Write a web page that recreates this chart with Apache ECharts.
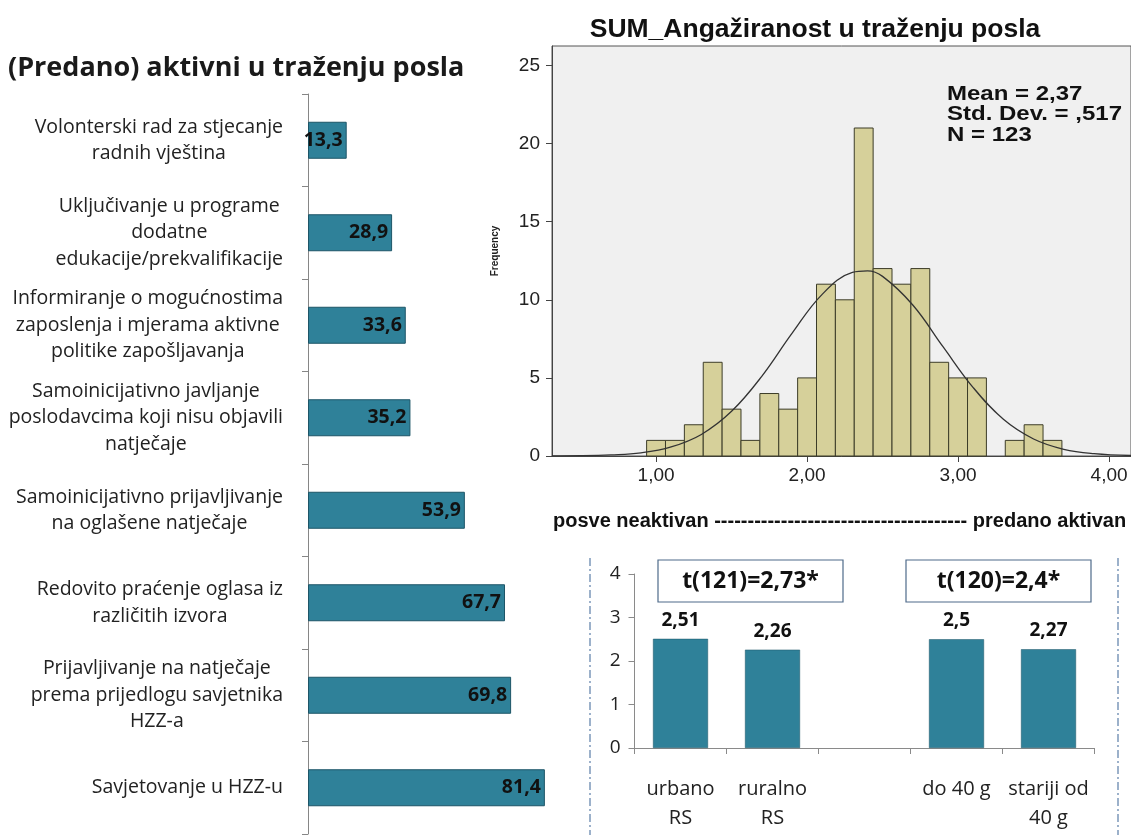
<!DOCTYPE html>
<html>
<head>
<meta charset="utf-8">
<script src="https://cdn.jsdelivr.net/npm/echarts@6/dist/echarts.min.js"></script>
<style>
  html, body { margin: 0; padding: 0; background: #fff; }
  #chart { width: 1131px; height: 835px; }
</style>
</head>
<body>
<div id="chart"></div>
<script>
// left: share of respondents per activity (%)
const activityLabels = [
  "Volonterski rad za stjecanje\nradnih vještina",
  "Uključivanje u programe\ndodatne\nedukacije/prekvalifikacije",
  "Informiranje o mogućnostima\nzaposlenja i mjerama aktivne\npolitike zapošljavanja",
  "Samoinicijativno javljanje\nposlodavcima koji nisu objavili\nnatječaje",
  "Samoinicijativno prijavljivanje\nna oglašene natječaje",
  "Redovito praćenje oglasa iz\nrazličitih izvora",
  "Prijavljivanje na natječaje\nprema prijedlogu savjetnika\nHZZ-a",
  "Savjetovanje u HZZ-u"
];
const activityValues = [13.3, 28.9, 33.6, 35.2, 53.9, 67.7, 69.8, 81.4];

// histogram of SUM_Angažiranost
const BIN_WIDTH = 0.125;
const binCenters = [1.0, 1.125, 1.25, 1.375, 1.5, 1.625, 1.75, 1.875, 2.0, 2.125, 2.25,
  2.375, 2.5, 2.625, 2.75, 2.875, 3.0, 3.125, 3.25, 3.375, 3.5, 3.625];
const binCounts = [1, 1, 2, 6, 3, 1, 4, 3, 5, 11, 10, 21, 12, 11, 12, 6, 5, 5, 0, 1, 2, 1];
// normal curve
const curveX = [0.31, 0.5, 0.7, 0.9, 1.1, 1.3, 1.5, 1.7, 1.9, 2.1, 2.3, 2.4, 2.5, 2.7, 2.9, 3.1, 3.3, 3.5, 3.7, 3.9, 4.15];
const curveY = [0.01, 0.02, 0.07, 0.2, 0.58, 1.38, 2.86, 5.1, 7.85, 10.35, 11.75, 11.85, 11.5, 9.67, 7.0, 4.38, 2.35, 1.09, 0.43, 0.15, 0.03];
const histXTicks = [1, 2, 3, 4];
const histYTicks = [0, 5, 10, 15, 20, 25];

// bottom right: group means
const groupLabels = ["urbano\nRS", "ruralno\nRS", "", "do 40 g", "stariji od\n40 g"];
const groupValues = [2.51, 2.26, null, 2.5, 2.27];

const chart = echarts.init(document.getElementById("chart"));

const SPSS_FONT = '"Liberation Sans", Arial, sans-serif';
const OFFICE_FONT = '"Open Sans", Lato, sans-serif';
const TEAL = "#2f8199";
const TEAL_EDGE = "#1d5567";

const option = {
  animation: false,
  backgroundColor: "#fff",
  grid: [
    { left: 308, top: 94, width: 291, height: 740, outerBoundsMode: "none" },
    {
      left: 552, top: 46, width: 579, height: 410, outerBoundsMode: "none",
      show: true, backgroundColor: "#f0f0f0", borderColor: "#555", borderWidth: 1
    },
    { left: 634.5, top: 574, width: 460, height: 174, outerBoundsMode: "none" }
  ],
  xAxis: [
    { gridIndex: 0, type: "value", min: 0, max: 100, show: false },
    {
      gridIndex: 1, type: "value", min: 0.311, max: 4.145,
      axisLine: { show: true, lineStyle: { color: "#444" } },
      axisTick: { show: true, customValues: histXTicks, length: 6, lineStyle: { color: "#444" } },
      axisLabel: {
        customValues: histXTicks, margin: 10,
        formatter: (v) => v.toFixed(2).replace(".", ","),
        fontFamily: SPSS_FONT, fontSize: 19, color: "#222"
      },
      splitLine: { show: false }
    },
    {
      gridIndex: 2, type: "category", data: groupLabels,
      axisLine: { lineStyle: { color: "#8a8a8a" } },
      axisTick: { show: true, interval: 0, length: 6, lineStyle: { color: "#8a8a8a" } },
      axisLabel: {
        interval: 0, margin: 27, lineHeight: 29,
        fontFamily: OFFICE_FONT, fontSize: 20, color: "#222"
      }
    }
  ],
  yAxis: [
    {
      gridIndex: 0, type: "category", data: activityLabels, inverse: true,
      axisLine: { show: true, lineStyle: { color: "#868686" } },
      axisTick: { show: true, interval: 0, length: 6, lineStyle: { color: "#868686" } },
      axisLabel: {
        interval: 0, margin: 25, align: "right",
        formatter: (v) => v.split("\n").map((l) => "{c|" + l + "}").join("\n"),
        rich: {
          c: { align: "center", fontFamily: OFFICE_FONT, fontSize: 19.5, lineHeight: 26.5, color: "#222" }
        }
      }
    },
    {
      gridIndex: 1, type: "value", min: 0, max: 26.25,
      name: "Frequency", nameLocation: "middle", nameGap: 52, nameRotate: 90,
      nameTextStyle: { fontFamily: SPSS_FONT, fontSize: 10, fontWeight: "bold", color: "#222" },
      axisLine: { show: true, lineStyle: { color: "#444" } },
      axisTick: { show: true, customValues: histYTicks, length: 6, lineStyle: { color: "#444" } },
      axisLabel: {
        customValues: histYTicks, margin: 12,
        fontFamily: SPSS_FONT, fontSize: 19, color: "#222"
      },
      splitLine: { show: false }
    },
    {
      gridIndex: 2, type: "value", min: 0, max: 4, interval: 1,
      axisLine: { show: true, lineStyle: { color: "#8a8a8a" } },
      axisTick: { show: true, length: 6, lineStyle: { color: "#8a8a8a" } },
      axisLabel: { margin: 14, fontFamily: OFFICE_FONT, fontSize: 19, color: "#222" },
      splitLine: { show: false }
    }
  ],
  series: [
    {
      type: "bar", xAxisIndex: 0, yAxisIndex: 0,
      data: activityValues, barWidth: 37,
      itemStyle: { color: TEAL, borderColor: TEAL_EDGE, borderWidth: 1 },
      label: {
        show: true, position: "insideRight", distance: 4,
        formatter: (p) => p.value.toFixed(1).replace(".", ","),
        fontFamily: OFFICE_FONT, fontSize: 19.5, fontWeight: "bold", color: "#111"
      }
    },
    {
      type: "custom", xAxisIndex: 1, yAxisIndex: 1,
      data: binCenters.map((c, i) => [c, binCounts[i]]),
      encode: { x: 0, y: 1 },
      renderItem: (params, api) => {
        const x = api.value(0);
        const y = api.value(1);
        if (!y) return null;
        const p0 = api.coord([x - BIN_WIDTH / 2, y]);
        const p1 = api.coord([x + BIN_WIDTH / 2, 0]);
        return {
          type: "rect",
          shape: { x: p0[0], y: p0[1], width: p1[0] - p0[0], height: p1[1] - p0[1] },
          style: { fill: "#d6d09a", stroke: "#3c3c28", lineWidth: 1 }
        };
      }
    },
    {
      type: "line", xAxisIndex: 1, yAxisIndex: 1,
      data: curveX.map((x, i) => [x, curveY[i]]),
      smooth: 0.4, showSymbol: false, z: 5,
      lineStyle: { color: "#333", width: 1.3 }
    },
    {
      type: "bar", xAxisIndex: 2, yAxisIndex: 2,
      data: groupValues, barWidth: 55,
      itemStyle: { color: TEAL, borderColor: TEAL_EDGE, borderWidth: 0.5 },
      label: {
        show: true, position: "top", distance: 9,
        formatter: (p) => String(p.value).replace(".", ","),
        fontFamily: OFFICE_FONT, fontSize: 19, fontWeight: "bold", color: "#111"
      }
    }
  ],
  graphic: [
    {
      type: "text", left: 8, top: 55,
      style: { text: "(Predano) aktivni u traženju posla", font: "bold 27px " + OFFICE_FONT, fill: "#1a1a1a" }
    },
    {
      type: "text", x: 815, y: 30,
      style: {
        text: "SUM_Angažiranost u traženju posla", font: "bold 26.5px " + SPSS_FONT, fill: "#111",
        align: "center", verticalAlign: "middle", textAlign: "center", textVerticalAlign: "middle"
      }
    },
    {
      type: "text", x: 947, y: 84, scaleX: 1.2,
      style: {
        text: "Mean = 2,37\nStd. Dev. = ,517\nN = 123", font: "bold 20px " + SPSS_FONT,
        lineHeight: 20.5, fill: "#111"
      }
    },
    {
      type: "text", x: 553, y: 511,
      style: {
        text: "posve neaktivan -------------------------------------- predano aktivan",
        font: "bold 20px " + SPSS_FONT, fill: "#111"
      }
    },
    {
      type: "rect", shape: { x: 658, y: 560, width: 185, height: 42 },
      style: { fill: "#fff", stroke: "#4f6b8a", lineWidth: 1.2 }
    },
    {
      type: "text", x: 750.5, y: 581,
      style: {
        text: "t(121)=2,73*", font: "bold 23px " + OFFICE_FONT, fill: "#111",
        align: "center", verticalAlign: "middle", textAlign: "center", textVerticalAlign: "middle"
      }
    },
    {
      type: "rect", shape: { x: 906, y: 560, width: 185, height: 42 },
      style: { fill: "#fff", stroke: "#4f6b8a", lineWidth: 1.2 }
    },
    {
      type: "text", x: 998.5, y: 581,
      style: {
        text: "t(120)=2,4*", font: "bold 23px " + OFFICE_FONT, fill: "#111",
        align: "center", verticalAlign: "middle", textAlign: "center", textVerticalAlign: "middle"
      }
    },
    {
      type: "line", shape: { x1: 590, y1: 558, x2: 590, y2: 835 },
      style: { stroke: "#5b7ea8", lineWidth: 1.2, lineDash: [8, 3, 2, 3] }
    },
    {
      type: "line", shape: { x1: 1118, y1: 558, x2: 1118, y2: 835 },
      style: { stroke: "#5b7ea8", lineWidth: 1.2, lineDash: [8, 3, 2, 3] }
    }
  ]
};

chart.setOption(option);
</script>
</body>
</html>
